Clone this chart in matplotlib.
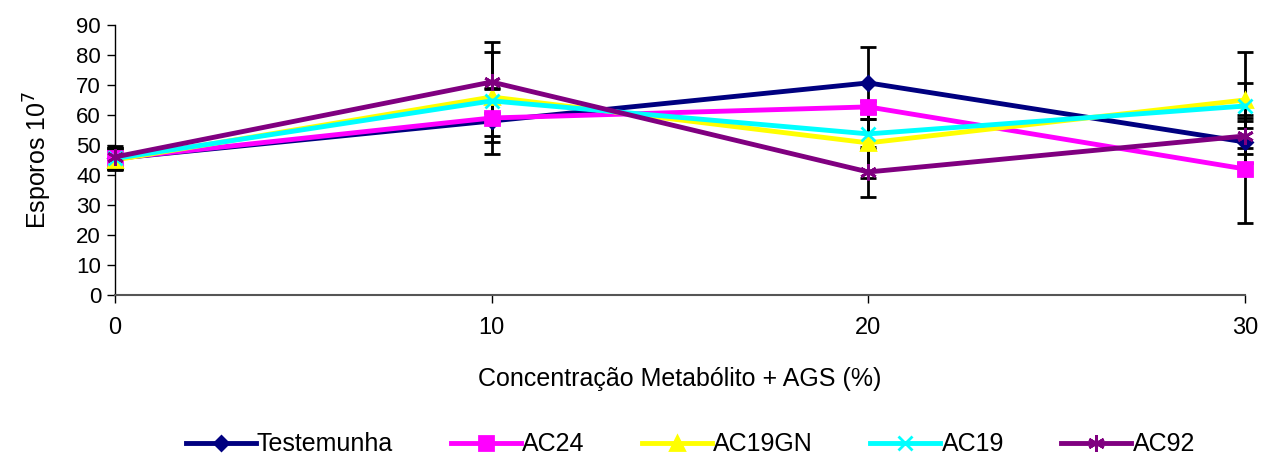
import numpy as np
import matplotlib.pyplot as plt

plt.rcParams['font.family'] = ['Liberation Sans', 'DejaVu Sans']

concentracao = [0, 10, 20, 30]
testemunha = [45.5, 58, 70.7, 51]
ac24 = [45.5, 59, 62.7, 42]
ac19gn = [45, 66, 50.7, 65]
ac19 = [45.5, 64.7, 53.7, 63]
ac92 = [46, 71, 41, 53]

err_testemunha = [3.5, 11, 12, 7]
err_ac24 = [3.5, 6, 2, 18]
err_ac19gn = [3.5, 15, 11.7, 16]
err_ac19 = [3.5, 4, 5, 7.5]
err_ac92 = [3.5, 13.3, 8.3, 6]

series = [
    ('Testemunha', testemunha, err_testemunha, '#000080', 'D', 7),
    ('AC24', ac24, err_ac24, '#FF00FF', 's', 10),
    ('AC19GN', ac19gn, err_ac19gn, '#FFFF00', '^', 10),
    ('AC19', ac19, err_ac19, '#00FFFF', 'x', 10),
    ('AC92', ac92, err_ac92, '#800080', (6, 2, 0), 12),
]

fig = plt.figure(figsize=(12.62, 4.58), dpi=100)
ax = fig.add_axes([0.0911, 0.356, 0.8954, 0.5894])

for nome, y, e, cor, mk, ms in series:
    ax.errorbar(concentracao, y, yerr=e, fmt='none', ecolor='black',
                elinewidth=2, capsize=6, capthick=2, zorder=2, clip_on=False)
for nome, y, e, cor, mk, ms in series:
    ax.plot(concentracao, y, color=cor, marker=mk, markersize=ms,
            markeredgewidth=2, linewidth=3.5, label=nome, zorder=3, clip_on=False)

ax.set_xlim(0, 30)
ax.set_ylim(0, 90)
ax.set_xticks([0, 10, 20, 30])
ax.set_yticks(range(0, 91, 10))
ax.tick_params(axis='y', labelsize=16, length=6, width=1, pad=4)
ax.tick_params(axis='x', labelsize=17, length=6, width=1, pad=10)
ax.spines['top'].set_visible(False)
ax.spines['right'].set_visible(False)
ax.spines['left'].set_linewidth(1)
ax.spines['bottom'].set_linewidth(1.5)
ax.spines['bottom'].set_color('#555555')

ax.set_xlabel('Concentração Metabólito + AGS (%)', fontsize=18, labelpad=20)
ax.set_ylabel('Esporos 10$^7$', fontsize=18, labelpad=16)

fig.legend(loc='center', bbox_to_anchor=(0.547, 0.03), ncol=5, frameon=False,
           fontsize=18, handlelength=2.8, columnspacing=2.3, handletextpad=0.05)

fig.savefig('out.png', dpi=100)
